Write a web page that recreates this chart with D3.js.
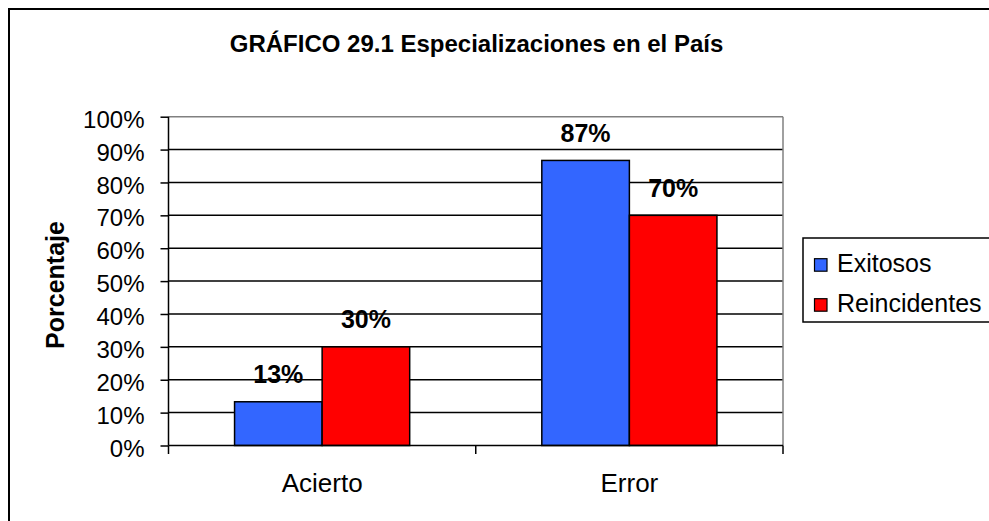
<!DOCTYPE html>
<html>
<head>
<meta charset="utf-8">
<script src="https://cdn.jsdelivr.net/npm/d3@7"></script>
<style>
  body { margin: 0; background: #fff; }
  svg { display: block; }
  text { font-family: "Liberation Sans", Arial, sans-serif; fill: #000; }
</style>
</head>
<body>
<svg id="chart" width="989" height="521"></svg>
<script>
const categories = ["Acierto", "Error"];
const seriesNames = ["Exitosos", "Reincidentes"];
const exitosos = [13.3, 86.7];
const reincidentes = [30, 70];
const yTicks = [0, 10, 20, 30, 40, 50, 60, 70, 80, 90, 100];
const colors = ["#3366FF", "#FF0000"];
const titleText = "GRÁFICO 29.1 Especializaciones en el País";
const yTitle = "Porcentaje";

const seriesValues = [exitosos, reincidentes];
const svg = d3.select("#chart");

// outer chart border (extends past the window on right and bottom)
svg.append("rect").attr("x", 9).attr("y", 9).attr("width", 1000).attr("height", 540)
  .attr("fill", "#fff").attr("stroke", "#000").attr("stroke-width", 2);

const pL = 168.5, pR = 783, pT = 116.7, pB = 445.5;

const y = d3.scaleLinear().domain([0, 100]).range([pB, pT]);
const x0 = d3.scaleBand().domain(categories).range([pL, pR]).padding(0);
const bw = x0.bandwidth();
const x1 = d3.scaleBand().domain(seriesNames).range([0.215 * bw, 0.785 * bw]).padding(0);

// gridlines
svg.append("g").selectAll("line").data(yTicks.filter(d => d > 0)).join("line")
  .attr("x1", pL).attr("x2", pR)
  .attr("y1", d => y(d)).attr("y2", d => y(d))
  .attr("stroke", d => d === 100 ? "#808080" : "#000")
  .attr("stroke-width", 1.5);

// right plot border
svg.append("line").attr("x1", pR).attr("x2", pR).attr("y1", pT).attr("y2", pB)
  .attr("stroke", "#808080").attr("stroke-width", 1.5);

// bars
const groups = svg.append("g").selectAll("g").data(categories).join("g")
  .attr("transform", d => `translate(${x0(d)},0)`);
groups.selectAll("rect").data((c, ci) => seriesNames.map((s, si) => ({ s, si, v: seriesValues[si][ci] })))
  .join("rect")
  .attr("x", d => x1(d.s)).attr("width", x1.bandwidth())
  .attr("y", d => y(d.v)).attr("height", d => y(0) - y(d.v))
  .attr("fill", d => colors[d.si]).attr("stroke", "#000").attr("stroke-width", 1.5);

// data labels
groups.selectAll("text.lbl").data((c, ci) => seriesNames.map((s, si) => ({ s, si, v: seriesValues[si][ci] })))
  .join("text").attr("class", "lbl")
  .attr("x", d => x1(d.s) + x1.bandwidth() / 2)
  .attr("y", d => y(d.v) - 18.5)
  .attr("text-anchor", "middle")
  .attr("font-size", 25).attr("font-weight", "bold")
  .text(d => Math.round(d.v) + "%");

// y axis
const yAxis = d3.axisLeft(y).tickValues(yTicks).tickSize(8).tickPadding(16).tickFormat(d => d + "%");
const gy = svg.append("g").attr("transform", `translate(${pL},0)`).call(yAxis);
gy.select(".domain").attr("stroke", "#000").attr("stroke-width", 1.5).attr("d", `M0,${pT}V${pB}`);
gy.selectAll(".tick line").attr("stroke", "#000").attr("stroke-width", 1.5);
gy.selectAll(".tick text").attr("font-size", 24).attr("font-family", "Liberation Sans, Arial, sans-serif")
  .attr("fill", "#000").attr("dy", "0.44em");

// x axis
const xAxis = d3.axisBottom(x0).tickSize(0).tickPadding(0);
const gx = svg.append("g").attr("transform", `translate(0,${pB})`).call(xAxis);
gx.select(".domain").remove();
gx.selectAll(".tick text").attr("font-size", 26).attr("font-family", "Liberation Sans, Arial, sans-serif")
  .attr("fill", "#000").attr("y", 46.5).attr("dy", 0);
const boundaries = [pL, ...categories.map(c => x0(c) + bw)];
svg.append("g").selectAll("line").data(boundaries).join("line")
  .attr("x1", d => d).attr("x2", d => d).attr("y1", pB).attr("y2", pB + 8.5)
  .attr("stroke", "#000").attr("stroke-width", 1.5);
svg.append("line").attr("x1", pL).attr("x2", pR).attr("y1", pB).attr("y2", pB)
  .attr("stroke", "#000").attr("stroke-width", 1.5);

// title
svg.append("text").attr("x", 476.5).attr("y", 52.3).attr("text-anchor", "middle")
  .attr("font-size", 24).attr("font-weight", "bold").text(titleText);

// y title
svg.append("text").attr("transform", "translate(64,285) rotate(-90)")
  .attr("text-anchor", "middle").attr("font-size", 25).attr("font-weight", "bold").text(yTitle);

// legend
const lg = svg.append("g");
lg.append("rect").attr("x", 803).attr("y", 238).attr("width", 200).attr("height", 84)
  .attr("fill", "#fff").attr("stroke", "#000").attr("stroke-width", 1.5);
const li = lg.selectAll("g").data(seriesNames).join("g")
  .attr("transform", (d, i) => `translate(0,${271.7 + i * 40})`);
li.append("rect").attr("x", 814.5).attr("y", -13).attr("width", 12.5).attr("height", 12.5)
  .attr("fill", (d, i) => colors[i]).attr("stroke", "#000").attr("stroke-width", 1.2);
li.append("text").attr("x", 837).attr("y", 0).attr("font-size", 25).text(d => d);
</script>
</body>
</html>
